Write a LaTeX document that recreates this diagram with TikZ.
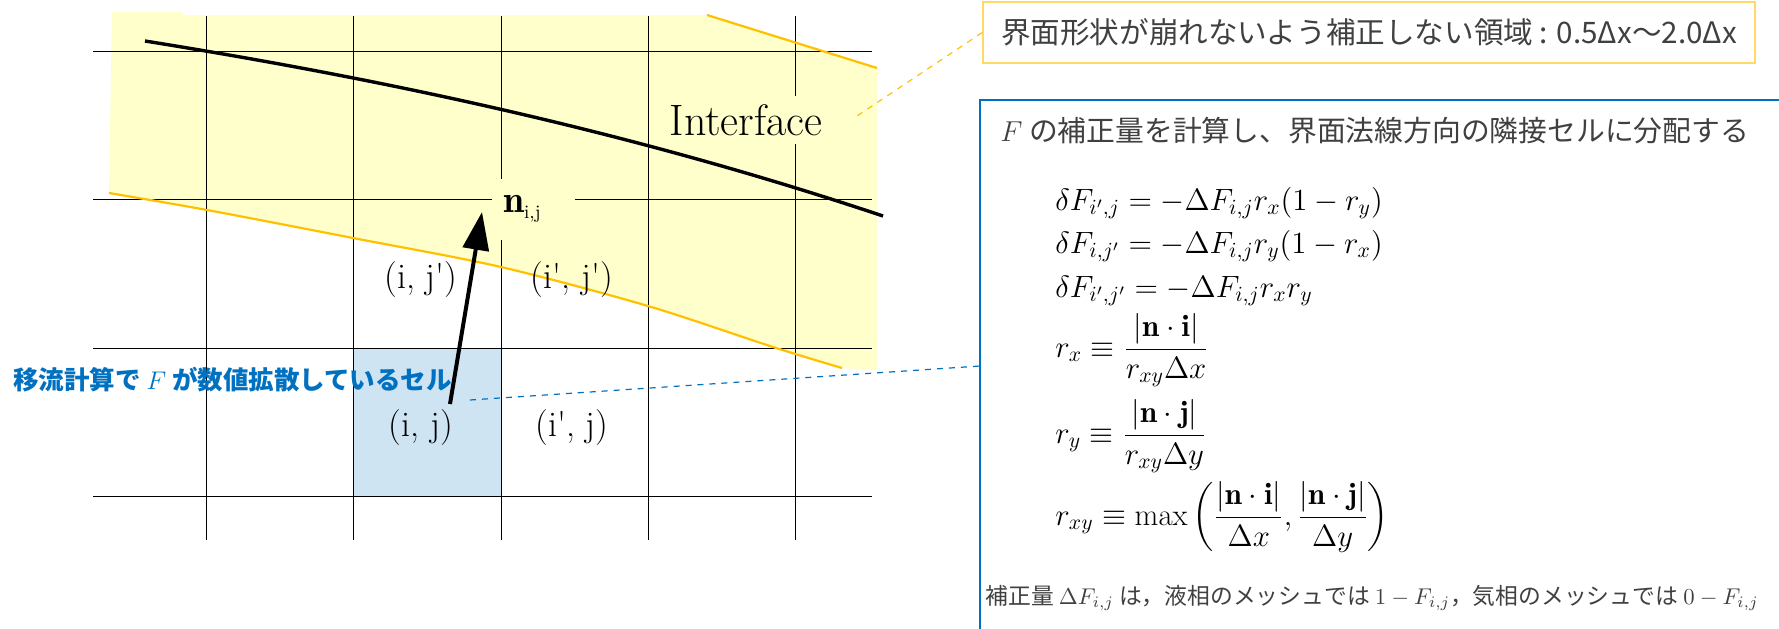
\documentclass[tikz,border=0pt]{standalone}
\usepackage{fix-cm}
\usepackage{amsmath}
\usepackage{fontspec}
\newfontfamily\jpfont{Noto Sans CJK JP}
\usepackage{tikz}
\usetikzlibrary{
	arrows.meta, positioning, calc
}
\definecolor{bandyellow}    {RGB}{255, 255, 204}
\definecolor{bandorange}    {RGB}{255, 192,   0}
\definecolor{boxgold}       {RGB}{255, 217, 102}
\definecolor{cellblue}      {RGB}{207, 228, 243}
\definecolor{labblue}       {RGB}{  0, 112, 192}
\definecolor{textgray}      {RGB}{ 64,  64,  64}

\begin{document}
\begin{tikzpicture}[x=0.5pt,y=-0.5pt,
		gridline/.style={black,line width=0.5pt},
		celllab/.style={inner sep=0pt,font=\fontsize{18}{21}\selectfont},
		eqlab/.style={anchor=base west,inner sep=0pt,font=\fontsize{15.4}{18}\selectfont},
		jplab/.style={anchor=west,inner sep=0pt,text=textgray}]
				\useasboundingbox (0,0) rectangle (1779,628);
				\fill[bandyellow] (112,12) -- (183,12) -- (183,15) -- (707,15) -- (877,68) -- (877,370)
					-- plot[smooth] coordinates {(842,368) (773,347) (648,306) (501,267) (353,238) (207,210) (109,193)} -- cycle;
				\fill[cellblue] (353,348) rectangle (501,496);
				\foreach \x in {206,353,501,648,795}{\draw[gridline] (\x,16) -- (\x,540);}
				\foreach \y in {51.5,199.5,348,496}{\draw[gridline] (93,\y) -- (872,\y);}
				\draw[bandorange,line width=1.1pt] (707,15) -- (877,68);
				\draw[bandorange,line width=1.1pt] plot[smooth] coordinates {(109,193) (207,210) (353,238) (501,267) (648,306) (773,347) (842,368)};
				\draw[line width=1.7pt] (145,41) .. controls (391,80.4) and (637,133.6) .. (883,216);
				\node[fill=bandyellow,inner sep=4pt,font=\fontsize{22}{26}\selectfont] (ifc) at (746,120) {Interface};
				\node[fill=bandyellow,text width=30.5pt,align=left,inner xsep=5.5pt,inner ysep=0pt,minimum height=30.5pt,font=\fontsize{19}{22}\selectfont] (nlab) at (533.5,209) {$\mathbf{n}_{\scriptscriptstyle\mathrm{i,j}}$};
				\node[celllab] (cijd) at (421,280) {(i, j\textquotesingle)};
				\node[celllab] (cidjd) at (572,280) {(i\textquotesingle, j\textquotesingle)};
				\node[celllab] (cij) at (421,428) {(i, j)};
				\node[celllab] (cidj) at (572,428) {(i\textquotesingle, j)};
				\node[anchor=west,inner sep=0pt,text=labblue,font=\jpfont\bfseries\fontsize{12.75}{15}\selectfont] (difflab) at (13,380) {移流計算で $F$ が数値拡散しているセル};
				\coordinate (ntail) at (450,404);
				\coordinate (ntip) at (482,212);
				\draw[-{Triangle[length=19pt,width=13pt]},line width=2pt] (ntail) -- (ntip);
				% boxes on the right
				\node[draw=boxgold,line width=0.8pt,text=textgray,minimum width=386pt,minimum height=30.5pt,inner sep=0pt,font=\jpfont\fontsize{14.8}{18}\selectfont] (topbox) at (1369,32.5) {界面形状が崩れないよう補正しない領域 : 0.5Δx～2.0Δx};
				\draw[labblue,line width=0.8pt] (1790,100) -| (980,640);
				\node[jplab,font=\jpfont\fontsize{14.4}{17}\selectfont] (headlab) at (1000,131) {$F$ の補正量を計算し、界面法線方向の隣接セルに分配する};
				\node[eqlab] (eqa) at (1055,210) {$\delta F_{i',j} = -\Delta F_{i,j} r_x (1 - r_y)$};
				\node[eqlab] (eqb) at (1055,253) {$\delta F_{i,j'} = -\Delta F_{i,j} r_y (1 - r_x)$};
				\node[eqlab] (eqc) at (1055,297) {$\delta F_{i',j'} = -\Delta F_{i,j} r_x r_y$};
				\node[eqlab] (eqd) at (1055,357) {$r_x \equiv \dfrac{|\mathbf{n}\cdot\mathbf{i}|}{r_{xy}\Delta x}$};
				\node[eqlab] (eqe) at (1055,443) {$r_y \equiv \dfrac{|\mathbf{n}\cdot\mathbf{j}|}{r_{xy}\Delta y}$};
				\node[eqlab] (eqf) at (1055,525) {$r_{xy} \equiv \max\left(\dfrac{|\mathbf{n}\cdot\mathbf{i}|}{\Delta x}, \dfrac{|\mathbf{n}\cdot\mathbf{j}|}{\Delta y}\right)$};
				\node[jplab,font=\jpfont\fontsize{11.4}{13}\selectfont] (notelab) at (985,598) {補正量 $\Delta F_{i,j}$ は，液相のメッシュでは $1-F_{i,j}$，気相のメッシュでは $0-F_{i,j}$};
				% dashed leaders
				\coordinate (ifcpt) at (857,116);
				\draw[bandorange,dashed,line width=0.6pt] (topbox.west) -- (ifcpt);
				\coordinate (cellpt) at (470,400);
				\coordinate (boxpt) at (980,366);
				\draw[labblue,dashed,line width=0.6pt] (cellpt) -- (boxpt);
			\end{tikzpicture}
\end{document}
